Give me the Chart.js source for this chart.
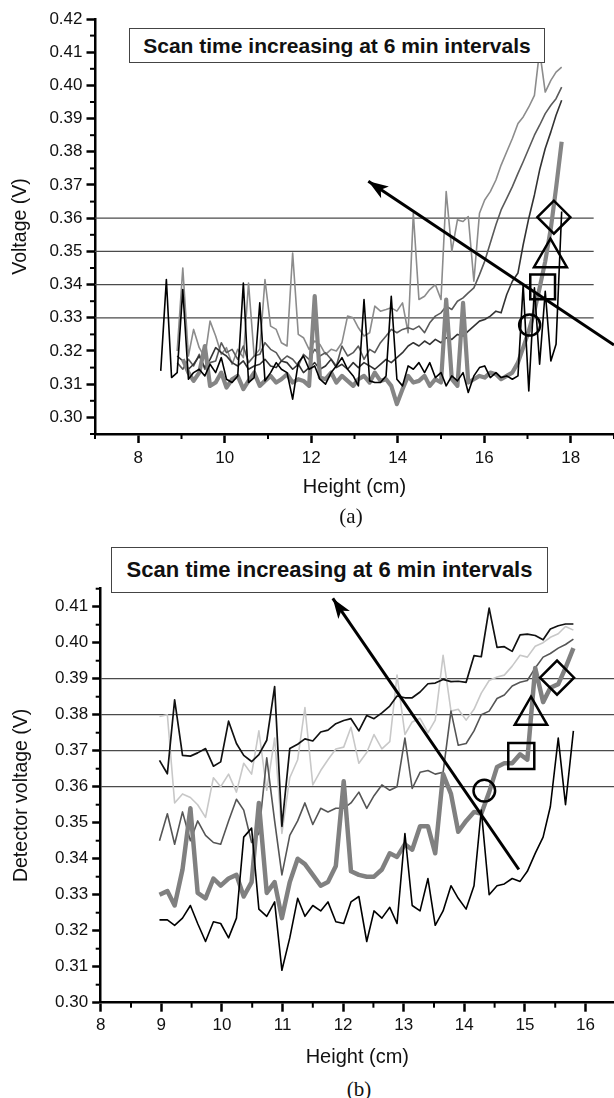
<!DOCTYPE html>
<html><head><meta charset="utf-8">
<script src="https://cdn.jsdelivr.net/npm/chart.js@4.4.1/dist/chart.umd.min.js"></script>
<style>
html,body{margin:0;padding:0;background:#fff;}
#page{position:relative;width:614px;height:1098px;overflow:hidden;background:#fff;font-family:"Liberation Sans",Arial,sans-serif;}
.wrap{position:absolute;left:0;width:614px;}
.box{position:absolute;box-sizing:border-box;border:1px solid #444;background:#fff;font-weight:bold;color:#111;display:flex;align-items:center;justify-content:center;white-space:nowrap;}
.cap{position:absolute;width:60px;text-align:center;font-family:"Liberation Serif","Times New Roman",serif;font-size:21px;line-height:24px;color:#111;}
</style></head>
<body><div id="page">
<div class="wrap" style="top:0;height:505px"><canvas id="chartA" width="614" height="505"></canvas></div>
<div class="wrap" style="top:560px;height:510px"><canvas id="chartB" width="614" height="510"></canvas></div>
<div class="box" style="left:129px;top:28px;width:416px;height:35px;font-size:21px">Scan time increasing at 6 min intervals</div>
<div class="box" style="left:111px;top:547px;width:437px;height:46px;font-size:22px">Scan time increasing at 6 min intervals</div>
<div class="cap" style="left:321px;top:504px">(a)</div>
<div class="cap" style="left:329px;top:1077px">(b)</div>
</div>
<script>
// ---------- Panel (a) data ----------
const heightA = [8.52,8.65,8.77,8.90,9.03,9.16,9.28,9.41,9.54,9.66,
9.79,9.92,10.04,10.17,10.30,10.43,10.55,10.68,10.81,10.93,
11.06,11.19,11.31,11.44,11.57,11.70,11.82,11.95,12.08,12.20,
12.33,12.46,12.58,12.71,12.84,12.97,13.09,13.22,13.35,13.47,
13.60,13.73,13.85,13.98,14.11,14.24,14.36,14.49,14.62,14.74,
14.87,15.00,15.12,15.25,15.38,15.51,15.63,15.76,15.89,16.01,
16.14,16.27,16.39,16.52,16.65,16.78,16.90,17.03,17.16,17.28,
17.41,17.54,17.66,17.79];
const voltA1 = [0.314,0.3415,0.312,0.3135,0.3385,0.3115,0.3135,0.3145,0.3125,0.316,
0.3135,0.318,0.3115,0.3105,0.3125,0.3405,0.3105,0.312,0.3345,0.311,
0.3135,0.3165,0.3145,0.3135,0.3055,0.3165,0.3185,0.3145,0.3155,0.3115,
0.310,0.3135,0.3155,0.318,0.3145,0.3125,0.3095,0.3355,0.311,0.3105,
0.3105,0.3125,0.3365,0.3115,0.3095,0.3155,0.3145,0.3165,0.3135,0.3165,
0.312,0.3135,0.3095,0.3125,0.311,0.3135,0.3075,0.3125,0.315,0.3155,
0.312,0.3135,0.312,0.3125,0.3115,0.3125,0.340,0.308,0.339,0.316,
0.338,0.317,0.322,0.362];
const voltA2 = [null,null,null,0.320,0.345,0.3185,0.3265,0.321,0.318,0.329,
0.3245,0.319,0.321,0.316,0.3205,0.318,0.3405,0.3185,0.3205,0.3415,
0.3275,0.3265,0.3225,0.3215,0.3495,0.325,0.324,0.3205,0.323,0.322,
0.319,0.3205,0.320,0.3225,0.3305,0.330,0.327,0.3245,0.3255,0.3335,
0.332,0.3325,0.333,0.332,0.3345,0.3255,0.3615,0.3355,0.3365,0.3385,
0.340,0.3355,0.368,0.350,0.3595,0.359,0.3605,0.341,0.3615,0.3655,
0.368,0.3715,0.376,0.380,0.384,0.3885,0.3905,0.3935,0.397,0.4105,
0.398,0.4015,0.404,0.4055];
const voltA3 = [null,null,null,0.3165,0.3145,0.3175,0.3155,0.319,0.3145,0.3165,
0.317,0.3225,0.3195,0.3205,0.3175,0.3215,0.3165,0.3185,0.319,0.3225,
0.3205,0.3195,0.317,0.3185,0.3175,0.3155,0.319,0.3175,0.3205,0.3185,
0.3195,0.3175,0.3155,0.3215,0.3185,0.3195,0.3215,0.3175,0.3205,0.3195,
0.3225,0.3245,0.3265,0.3255,0.3265,0.327,0.3265,0.3275,0.3255,0.3285,
0.3305,0.3315,0.3335,0.3325,0.335,0.336,0.3375,0.339,0.343,0.347,
0.3525,0.358,0.3625,0.366,0.3695,0.3735,0.377,0.381,0.385,0.388,
0.3915,0.394,0.396,0.3995];
const voltA4 = [null,null,null,0.3185,0.317,0.3145,0.316,0.3185,0.315,0.3175,
0.321,0.3195,0.3185,0.3165,0.3155,0.317,0.3145,0.3155,0.316,0.3175,
0.3155,0.315,0.317,0.3165,0.3145,0.316,0.3135,0.315,0.3165,0.3145,
0.3155,0.3175,0.315,0.316,0.3145,0.3165,0.315,0.3165,0.3155,0.3145,
0.316,0.3175,0.3165,0.318,0.3195,0.3215,0.3225,0.3215,0.323,0.322,
0.3235,0.3225,0.324,0.3235,0.325,0.3245,0.326,0.3275,0.329,0.3295,
0.3305,0.332,0.3315,0.337,0.341,0.3435,0.352,0.360,0.367,0.3745,
0.381,0.386,0.391,0.3955];
const voltA5 = [null,null,null,null,0.3175,0.3135,0.311,0.3135,0.3215,0.3095,
0.3105,0.3135,0.309,0.3115,0.3125,0.3085,0.311,0.3135,0.3095,0.311,
0.3125,0.3105,0.3115,0.313,0.3105,0.3115,0.311,0.3095,0.3365,0.312,
0.3115,0.3135,0.3105,0.3125,0.311,0.3095,0.3115,0.3125,0.3105,0.3135,
0.311,0.3115,0.3095,0.304,0.3085,0.3125,0.3105,0.311,0.3125,0.3095,
0.3115,0.3105,0.3355,0.3115,0.3095,0.3345,0.3105,0.3115,0.3125,0.312,
0.3135,0.313,0.3115,0.3125,0.3135,0.3165,0.321,0.326,0.332,0.339,
0.347,0.357,0.369,0.383];
const xTicksA = [8,10,12,14,16,18];
const xMinorA = [7,9,11,13,15,17,19];
const yTicksA = [0.30,0.31,0.32,0.33,0.34,0.35,0.36,0.37,0.38,0.39,0.40,0.41,0.42];
const yMinorA = [0.295,0.305,0.315,0.325,0.335,0.345,0.355,0.365,0.375,0.385,0.395,0.405,0.415];
const refLevelsA = [0.33,0.34,0.35,0.36];
const refSpanA = [7,18.53];
const arrowAx = [19.0,13.32];
const arrowAy = [0.3218,0.3711];
const markerAx = [17.05,17.35,17.53,17.61];
const markerAy = [0.3278,0.3393,0.3481,0.3603];

// ---------- Panel (b) data ----------
const heightB = [8.97,9.10,9.22,9.35,9.48,9.60,9.73,9.86,9.98,10.11,
10.24,10.36,10.49,10.61,10.74,10.87,10.99,11.12,11.25,11.37,
11.50,11.63,11.75,11.88,12.01,12.13,12.26,12.39,12.51,12.64,
12.77,12.89,13.02,13.14,13.27,13.40,13.52,13.65,13.78,13.90,
14.03,14.16,14.28,14.41,14.54,14.66,14.79,14.92,15.04,15.17,
15.30,15.42,15.55,15.67,15.80];
const voltB1 = [0.3673,0.3636,0.3841,0.3687,0.3685,0.3694,0.3706,0.3657,0.3669,0.3782,
0.3720,0.3687,0.3670,0.3689,0.3729,0.3878,0.3490,0.3706,0.3718,0.3733,
0.3727,0.3752,0.3757,0.3775,0.3784,0.3789,0.3755,0.3798,0.3789,0.3805,
0.3824,0.3852,0.3847,0.3847,0.3863,0.3886,0.3888,0.3898,0.3892,0.3893,
0.3890,0.3964,0.3961,0.4096,0.3987,0.3989,0.3976,0.4022,0.4024,0.4020,
0.4008,0.4038,0.4047,0.4052,0.4052];
const voltB2 = [0.3795,0.380,0.3555,0.358,0.357,0.355,0.3515,0.3625,0.360,0.3635,
0.3585,0.3665,0.3635,0.3755,0.359,0.3735,0.347,0.3625,0.3675,0.382,
0.3605,0.3645,0.3675,0.3705,0.371,0.3765,0.3665,0.3695,0.3745,0.3705,
0.3725,0.391,0.3745,0.378,0.379,0.375,0.3785,0.3965,0.381,0.3815,
0.3785,0.3815,0.386,0.3895,0.3905,0.391,0.3935,0.3965,0.396,0.399,
0.400,0.4015,0.4025,0.4045,0.4035];
const voltB3 = [0.345,0.3525,0.344,0.353,0.345,0.3505,0.3465,0.3445,0.344,0.3505,
0.3565,0.3535,0.3445,0.347,0.368,0.3505,0.3355,0.3465,0.3505,0.3555,
0.3495,0.354,0.353,0.354,0.354,0.3555,0.3585,0.354,0.3575,0.3605,
0.359,0.360,0.3735,0.3595,0.364,0.3645,0.3635,0.364,0.381,0.3715,
0.372,0.3755,0.380,0.381,0.3845,0.3855,0.388,0.389,0.3895,0.393,
0.396,0.397,0.3985,0.3995,0.401];
const voltB4 = [0.330,0.331,0.327,0.337,0.354,0.3305,0.329,0.3345,0.3325,0.3345,
0.3355,0.3295,0.3335,0.3555,0.3305,0.3335,0.3235,0.3335,0.340,0.3385,
0.3355,0.3325,0.3335,0.338,0.3615,0.3365,0.3355,0.335,0.335,0.337,
0.3415,0.3405,0.344,0.3425,0.349,0.349,0.3415,0.3635,0.358,0.3475,
0.3505,0.353,0.3525,0.3585,0.3655,0.3665,0.3665,0.369,0.3675,0.393,
0.3835,0.3875,0.3885,0.393,0.3985];
const voltB5 = [0.323,0.323,0.3215,0.3235,0.327,0.322,0.317,0.3225,0.322,0.318,
0.3235,0.346,0.3485,0.326,0.324,0.328,0.309,0.318,0.329,0.324,
0.327,0.3255,0.328,0.3225,0.322,0.328,0.3295,0.317,0.3255,0.3235,
0.3265,0.322,0.347,0.327,0.3255,0.3345,0.3215,0.3255,0.3325,0.329,
0.326,0.3325,0.3535,0.330,0.3325,0.333,0.3345,0.3337,0.3365,0.3415,
0.346,0.3545,0.3735,0.355,0.3755];
const xTicksB = [8,9,10,11,12,13,14,15,16];
const xMinorB = [8.5,9.5,10.5,11.5,12.5,13.5,14.5,15.5];
const yTicksB = [0.30,0.31,0.32,0.33,0.34,0.35,0.36,0.37,0.38,0.39,0.40,0.41];
const yMinorB = [0.305,0.315,0.325,0.335,0.345,0.355,0.365,0.375,0.385,0.395,0.405,0.415];
const refLevelsB = [0.36,0.37,0.38,0.39];
const refSpanB = [8,16.47];
const arrowBx = [14.90,11.83];
const arrowBy = [0.337,0.4123];
const markerBx = [14.33,14.94,15.10,15.53];
const markerBy = [0.3589,0.3685,0.3798,0.3903];

// ---------- helpers ----------
const FONT = '"Liberation Sans", Arial, sans-serif';
function pts(xs, ys){ const out=[]; xs.forEach((x,i)=>{ if(ys[i]!==null && ys[i]!==undefined) out.push({x:x,y:ys[i]}); }); return out; }
function series(xs, ys, color, w){ return {data:pts(xs,ys), borderColor:color, borderWidth:w, pointRadius:0, tension:0, fill:false, borderJoinStyle:'round'}; }
function refLines(levels, span){ return levels.map(v=>({data:[{x:span[0],y:v},{x:span[1],y:v}], borderColor:'#4a4a4a', borderWidth:1.2, pointRadius:0, fill:false})); }
function arrow(xs, ys){ return {data:[{x:xs[0],y:ys[0]},{x:xs[1],y:ys[1]}], borderColor:'#000', borderWidth:3, pointRadius:0, clip:false, fill:false, arrowHead:{length:20,width:7}}; }
function markers(xs, ys, radii){ return {data:pts(xs,ys), showLine:false, pointStyle:['circle','rect','triangle','rectRot'], pointRadius:radii, pointBackgroundColor:'rgba(0,0,0,0)', pointBorderColor:'#000', pointBorderWidth:2.5, clip:false}; }

const arrowPlugin = { id:'arrowHeads', afterDatasetsDraw(chart){
  const ctx = chart.ctx;
  chart.data.datasets.forEach((ds,i)=>{
    if(!ds.arrowHead) return;
    const meta = chart.getDatasetMeta(i);
    const a = meta.data[0], b = meta.data[meta.data.length-1];
    const ang = Math.atan2(b.y-a.y, b.x-a.x), c = Math.cos(ang), s = Math.sin(ang);
    const L = ds.arrowHead.length, W = ds.arrowHead.width;
    ctx.save(); ctx.fillStyle = '#000'; ctx.beginPath();
    ctx.moveTo(b.x, b.y);
    ctx.lineTo(b.x - L*c + W*s, b.y - L*s - W*c);
    ctx.lineTo(b.x - 0.75*L*c, b.y - 0.75*L*s);
    ctx.lineTo(b.x - L*c - W*s, b.y - L*s + W*c);
    ctx.closePath(); ctx.fill(); ctx.restore();
  });
}};
const minorPlugin = { id:'minorTicks', afterDraw(chart, args, opts){
  const ctx = chart.ctx, xs = chart.scales.x, ys = chart.scales.y;
  ctx.save(); ctx.strokeStyle = '#000'; ctx.lineWidth = opts.width || 2;
  (opts.x||[]).forEach(v=>{ const p = xs.getPixelForValue(v); ctx.beginPath(); ctx.moveTo(p, xs.top); ctx.lineTo(p, xs.top + opts.len); ctx.stroke(); });
  (opts.y||[]).forEach(v=>{ const p = ys.getPixelForValue(v); ctx.beginPath(); ctx.moveTo(ys.right, p); ctx.lineTo(ys.right - opts.len, p); ctx.stroke(); });
  ctx.restore();
}};

function axisX(min, max, ticks, height, titlePadBottom, tickPad){
  return { type:'linear', min:min, max:max,
    afterBuildTicks(s){ s.ticks = ticks.map(v=>({value:v})); },
    afterFit(s){ s.height = height; s.paddingLeft = 0; s.paddingRight = 0; },
    ticks:{ callback:(v)=>String(v), color:'#111', font:{family:FONT, size:17}, padding:tickPad, maxRotation:0, autoSkip:false },
    grid:{ display:true, drawOnChartArea:false, drawTicks:true, tickLength:9, tickWidth:2.5, tickColor:'#000' },
    border:{ display:true, color:'#000', width:2.5 },
    title:{ display:true, text:'Height (cm)', color:'#111', font:{family:FONT, size:20}, padding:{top:0, bottom:titlePadBottom} } };
}
function axisY(min, max, ticks, width, title, titlePadTop){
  return { type:'linear', min:min, max:max,
    afterBuildTicks(s){ s.ticks = ticks.map(v=>({value:v})); },
    afterFit(s){ s.width = width; s.paddingTop = 0; s.paddingBottom = 0; },
    ticks:{ callback:(v)=>Number(v).toFixed(2), color:'#111', font:{family:FONT, size:17}, padding:4, autoSkip:false },
    grid:{ display:true, drawOnChartArea:false, drawTicks:true, tickLength:8.5, tickWidth:2.5, tickColor:'#000' },
    border:{ display:true, color:'#000', width:2.5 },
    title:{ display:true, text:title, color:'#111', font:{family:FONT, size:19.5}, padding:{top:titlePadTop, bottom:0} } };
}

new Chart(document.getElementById('chartA'), {
  type:'line',
  data:{ datasets:[
    arrow(arrowAx, arrowAy),
    markers(markerAx, markerAy, [10.5,17.5,19,16.5]),
    series(heightA, voltA1, '#000000', 1.6),
    series(heightA, voltA5, '#858585', 4.2),
    series(heightA, voltA4, '#333333', 1.6),
    series(heightA, voltA3, '#5a5a5a', 1.6),
    series(heightA, voltA2, '#8c8c8c', 1.6),
    ...refLines(refLevelsA, refSpanA)
  ]},
  options:{ responsive:false, animation:false, events:[],
    layout:{ autoPadding:false, padding:{ top:19, left:0, right:0, bottom:0 } },
    plugins:{ legend:{display:false}, tooltip:{enabled:false}, minorTicks:{ x:xMinorA, y:yMinorA, len:5, width:2 } },
    scales:{ x: axisX(7, 19, xTicksA, 71, 5.5, 5), y: axisY(0.295, 0.42, yTicksA, 95, 'Voltage (V)', 9) } },
  plugins:[arrowPlugin, minorPlugin]
});

new Chart(document.getElementById('chartB'), {
  type:'line',
  data:{ datasets:[
    arrow(arrowBx, arrowBy),
    markers(markerBx, markerBy, [10.8,18.4,18.7,17]),
    series(heightB, voltB1, '#111111', 1.7),
    series(heightB, voltB5, '#000000', 1.6),
    series(heightB, voltB4, '#808080', 4.5),
    series(heightB, voltB3, '#555555', 1.6),
    series(heightB, voltB2, '#c8c8c8', 1.6),
    ...refLines(refLevelsB, refSpanB)
  ]},
  options:{ responsive:false, animation:false, events:[],
    layout:{ autoPadding:false, padding:{ top:28, left:0, right:0, bottom:0 } },
    plugins:{ legend:{display:false}, tooltip:{enabled:false}, minorTicks:{ x:xMinorB, y:yMinorB, len:5, width:2 } },
    scales:{ x: axisX(8, 16.47, xTicksB, 67.3, 1, 3), y: axisY(0.30, 0.4152, yTicksB, 100.7, 'Detector voltage (V)', 10) } },
  plugins:[arrowPlugin, minorPlugin]
});
</script>
</body></html>
